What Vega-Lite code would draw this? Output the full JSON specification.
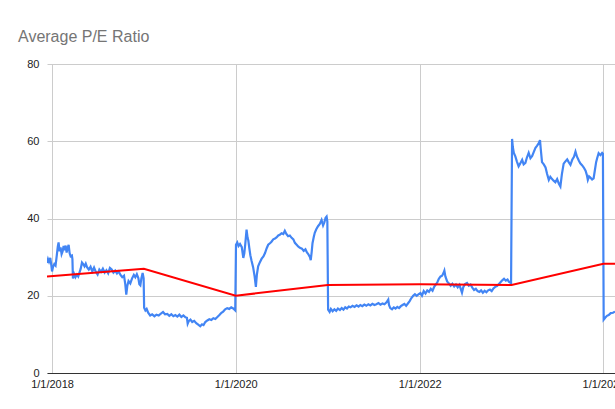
{
  "$schema": "https://vega.github.io/schema/vega-lite/v6.json",
  "width": 568,
  "height": 309,
  "autosize": {"type": "none"},
  "padding": {"left": 47, "top": 64, "right": 0, "bottom": 36},
  "background": "white",
  "config": {"view": {"stroke": null}, "font": "Liberation Sans"},
  "title": {"text": "Average P/E Ratio", "anchor": "start", "frame": "group", "dx": -29, "offset": 0, "baseline": "alphabetic", "fontSize": 16, "fontWeight": "normal", "color": "#757575", "font": "Liberation Sans"},
  "datasets": {
    "pe": [
      {"date":"2017-12-12","pe":28.5},{"date":"2017-12-16","pe":29.5},{"date":"2017-12-20","pe":28.8},{"date":"2017-12-25","pe":29.8},{"date":"2017-12-29","pe":28.0},
      {"date":"2018-01-01","pe":26.3},{"date":"2018-01-05","pe":27.5},{"date":"2018-01-10","pe":28.2},{"date":"2018-01-15","pe":27.8},{"date":"2018-01-20","pe":30.5},
      {"date":"2018-01-24","pe":32.8},{"date":"2018-01-27","pe":33.8},{"date":"2018-01-31","pe":31.5},{"date":"2018-02-04","pe":32.5},{"date":"2018-02-08","pe":30.8},
      {"date":"2018-02-12","pe":31.5},{"date":"2018-02-16","pe":32.9},{"date":"2018-02-20","pe":31.8},{"date":"2018-02-24","pe":33.0},{"date":"2018-02-28","pe":31.2},
      {"date":"2018-03-04","pe":32.4},{"date":"2018-03-08","pe":33.2},{"date":"2018-03-12","pe":31.0},{"date":"2018-03-16","pe":30.2},{"date":"2018-03-21","pe":30.4},
      {"date":"2018-03-23","pe":29.5},{"date":"2018-03-25","pe":24.5},{"date":"2018-03-30","pe":25.6},{"date":"2018-04-04","pe":24.8},{"date":"2018-04-10","pe":25.5},
      {"date":"2018-04-15","pe":25.0},{"date":"2018-04-20","pe":26.0},{"date":"2018-04-25","pe":27.0},{"date":"2018-04-30","pe":28.6},{"date":"2018-05-05","pe":28.2},
      {"date":"2018-05-10","pe":27.6},{"date":"2018-05-15","pe":28.3},{"date":"2018-05-20","pe":27.4},{"date":"2018-05-27","pe":26.8},{"date":"2018-06-03","pe":27.5},
      {"date":"2018-06-10","pe":26.3},{"date":"2018-06-17","pe":27.3},{"date":"2018-06-24","pe":26.2},{"date":"2018-07-01","pe":25.5},{"date":"2018-07-08","pe":26.8},
      {"date":"2018-07-15","pe":26.2},{"date":"2018-07-22","pe":27.0},{"date":"2018-07-29","pe":26.0},{"date":"2018-08-05","pe":26.6},{"date":"2018-08-12","pe":25.8},
      {"date":"2018-08-19","pe":27.2},{"date":"2018-08-26","pe":26.8},{"date":"2018-09-02","pe":26.0},{"date":"2018-09-09","pe":26.5},{"date":"2018-09-16","pe":25.8},
      {"date":"2018-09-23","pe":26.3},{"date":"2018-09-30","pe":25.4},{"date":"2018-10-07","pe":24.8},{"date":"2018-10-14","pe":25.2},{"date":"2018-10-19","pe":23.0},
      {"date":"2018-10-23","pe":20.3},{"date":"2018-10-27","pe":22.5},{"date":"2018-11-01","pe":23.8},{"date":"2018-11-08","pe":23.2},{"date":"2018-11-15","pe":24.5},
      {"date":"2018-11-22","pe":25.4},{"date":"2018-11-28","pe":24.8},{"date":"2018-12-04","pe":25.6},{"date":"2018-12-10","pe":24.6},{"date":"2018-12-14","pe":23.0},
      {"date":"2018-12-18","pe":22.7},{"date":"2018-12-22","pe":24.5},{"date":"2018-12-27","pe":25.9},{"date":"2018-12-31","pe":24.5},
      {"date":"2019-01-02","pe":16.9},{"date":"2019-01-07","pe":16.2},{"date":"2019-01-12","pe":16.6},{"date":"2019-01-18","pe":15.6},{"date":"2019-01-26","pe":14.9},
      {"date":"2019-02-03","pe":15.2},{"date":"2019-02-12","pe":14.7},{"date":"2019-02-20","pe":15.1},{"date":"2019-03-01","pe":14.9},{"date":"2019-03-10","pe":15.4},
      {"date":"2019-03-18","pe":15.8},{"date":"2019-03-26","pe":15.2},{"date":"2019-04-04","pe":15.3},{"date":"2019-04-12","pe":14.8},{"date":"2019-04-20","pe":15.2},
      {"date":"2019-04-28","pe":14.7},{"date":"2019-05-06","pe":15.0},{"date":"2019-05-14","pe":14.6},{"date":"2019-05-22","pe":15.1},{"date":"2019-05-30","pe":14.5},
      {"date":"2019-06-07","pe":14.9},{"date":"2019-06-15","pe":14.4},{"date":"2019-06-21","pe":14.3},{"date":"2019-06-24","pe":12.8},{"date":"2019-06-28","pe":13.4},
      {"date":"2019-07-05","pe":13.8},{"date":"2019-07-12","pe":13.2},{"date":"2019-07-20","pe":13.5},{"date":"2019-07-28","pe":12.9},{"date":"2019-08-05","pe":12.5},
      {"date":"2019-08-13","pe":12.1},{"date":"2019-08-20","pe":12.6},{"date":"2019-08-26","pe":12.4},{"date":"2019-09-02","pe":13.2},{"date":"2019-09-10","pe":13.6},
      {"date":"2019-09-18","pe":13.9},{"date":"2019-09-26","pe":13.7},{"date":"2019-10-04","pe":14.2},{"date":"2019-10-12","pe":14.0},{"date":"2019-10-20","pe":14.5},
      {"date":"2019-10-28","pe":15.0},{"date":"2019-11-05","pe":15.6},{"date":"2019-11-12","pe":15.9},{"date":"2019-11-20","pe":16.5},{"date":"2019-11-28","pe":16.8},
      {"date":"2019-12-06","pe":16.6},{"date":"2019-12-14","pe":17.0},{"date":"2019-12-22","pe":16.7},{"date":"2019-12-30","pe":16.2},
      {"date":"2020-01-02","pe":33.2},{"date":"2020-01-07","pe":33.8},{"date":"2020-01-12","pe":32.9},{"date":"2020-01-18","pe":33.4},{"date":"2020-01-25","pe":32.6},
      {"date":"2020-01-31","pe":29.8},{"date":"2020-02-04","pe":31.0},{"date":"2020-02-08","pe":33.5},{"date":"2020-02-13","pe":37.1},{"date":"2020-02-17","pe":35.0},
      {"date":"2020-02-20","pe":34.3},{"date":"2020-02-24","pe":32.3},{"date":"2020-02-28","pe":30.5},{"date":"2020-03-04","pe":29.0},{"date":"2020-03-10","pe":27.4},
      {"date":"2020-03-16","pe":25.0},{"date":"2020-03-21","pe":22.3},{"date":"2020-03-25","pe":25.5},{"date":"2020-03-30","pe":27.6},{"date":"2020-04-06","pe":28.7},
      {"date":"2020-04-13","pe":29.6},{"date":"2020-04-20","pe":30.2},{"date":"2020-04-26","pe":31.0},{"date":"2020-05-03","pe":32.3},{"date":"2020-05-09","pe":33.2},
      {"date":"2020-05-16","pe":33.6},{"date":"2020-05-22","pe":34.0},{"date":"2020-05-29","pe":34.6},{"date":"2020-06-05","pe":34.8},{"date":"2020-06-11","pe":35.1},
      {"date":"2020-06-18","pe":35.6},{"date":"2020-06-24","pe":35.8},{"date":"2020-07-01","pe":36.2},{"date":"2020-07-08","pe":36.0},{"date":"2020-07-14","pe":36.8},
      {"date":"2020-07-20","pe":36.0},{"date":"2020-07-27","pe":35.4},{"date":"2020-08-03","pe":35.6},{"date":"2020-08-10","pe":35.0},{"date":"2020-08-17","pe":34.6},
      {"date":"2020-08-23","pe":33.7},{"date":"2020-08-30","pe":33.2},{"date":"2020-09-06","pe":32.7},{"date":"2020-09-12","pe":32.4},{"date":"2020-09-20","pe":32.2},
      {"date":"2020-09-27","pe":31.6},{"date":"2020-10-04","pe":32.0},{"date":"2020-10-10","pe":31.2},{"date":"2020-10-15","pe":30.8},{"date":"2020-10-22","pe":30.0},
      {"date":"2020-10-25","pe":29.2},{"date":"2020-10-29","pe":31.5},{"date":"2020-11-01","pe":33.6},{"date":"2020-11-06","pe":35.2},{"date":"2020-11-10","pe":36.3},
      {"date":"2020-11-16","pe":37.2},{"date":"2020-11-23","pe":38.0},{"date":"2020-11-30","pe":38.6},{"date":"2020-12-07","pe":39.6},{"date":"2020-12-13","pe":38.2},
      {"date":"2020-12-18","pe":39.0},{"date":"2020-12-23","pe":40.2},{"date":"2020-12-27","pe":40.5},{"date":"2020-12-30","pe":39.2},
      {"date":"2021-01-02","pe":16.4},{"date":"2021-01-08","pe":15.8},{"date":"2021-01-13","pe":16.6},{"date":"2021-01-20","pe":16.0},{"date":"2021-01-27","pe":16.5},
      {"date":"2021-02-03","pe":16.1},{"date":"2021-02-10","pe":16.7},{"date":"2021-02-18","pe":16.3},{"date":"2021-02-25","pe":16.8},{"date":"2021-03-04","pe":16.4},
      {"date":"2021-03-11","pe":17.0},{"date":"2021-03-18","pe":16.7},{"date":"2021-03-25","pe":17.2},{"date":"2021-04-01","pe":17.0},{"date":"2021-04-09","pe":17.4},
      {"date":"2021-04-17","pe":17.1},{"date":"2021-04-25","pe":17.5},{"date":"2021-05-03","pe":17.2},{"date":"2021-05-10","pe":17.6},{"date":"2021-05-18","pe":17.3},
      {"date":"2021-05-26","pe":17.7},{"date":"2021-06-03","pe":17.4},{"date":"2021-06-11","pe":17.8},{"date":"2021-06-19","pe":17.5},{"date":"2021-06-27","pe":17.9},
      {"date":"2021-07-05","pe":17.6},{"date":"2021-07-13","pe":17.8},{"date":"2021-07-21","pe":18.1},{"date":"2021-07-29","pe":17.7},{"date":"2021-08-06","pe":18.0},
      {"date":"2021-08-14","pe":17.8},{"date":"2021-08-22","pe":18.3},{"date":"2021-08-29","pe":19.0},{"date":"2021-09-01","pe":17.6},{"date":"2021-09-06","pe":16.8},
      {"date":"2021-09-13","pe":16.5},{"date":"2021-09-20","pe":17.0},{"date":"2021-09-27","pe":16.7},{"date":"2021-10-04","pe":17.1},{"date":"2021-10-11","pe":16.8},
      {"date":"2021-10-18","pe":17.3},{"date":"2021-10-25","pe":17.6},{"date":"2021-11-01","pe":17.9},{"date":"2021-11-08","pe":17.4},{"date":"2021-11-15","pe":18.0},
      {"date":"2021-11-22","pe":18.6},{"date":"2021-11-29","pe":19.4},{"date":"2021-12-06","pe":20.0},{"date":"2021-12-13","pe":20.4},{"date":"2021-12-20","pe":20.0},
      {"date":"2021-12-28","pe":20.4},
      {"date":"2022-01-04","pe":20.7},{"date":"2022-01-10","pe":20.0},{"date":"2022-01-17","pe":21.2},{"date":"2022-01-24","pe":20.6},{"date":"2022-01-31","pe":21.4},
      {"date":"2022-02-07","pe":21.0},{"date":"2022-02-14","pe":21.8},{"date":"2022-02-21","pe":21.3},{"date":"2022-02-28","pe":22.4},{"date":"2022-03-06","pe":22.9},
      {"date":"2022-03-12","pe":23.5},{"date":"2022-03-18","pe":24.4},{"date":"2022-03-25","pe":25.0},{"date":"2022-03-31","pe":25.2},{"date":"2022-04-05","pe":25.8},
      {"date":"2022-04-09","pe":26.5},{"date":"2022-04-13","pe":25.0},{"date":"2022-04-20","pe":23.7},{"date":"2022-04-27","pe":23.2},{"date":"2022-05-04","pe":22.6},
      {"date":"2022-05-11","pe":23.1},{"date":"2022-05-18","pe":22.4},{"date":"2022-05-25","pe":22.9},{"date":"2022-06-01","pe":22.2},{"date":"2022-06-08","pe":22.8},
      {"date":"2022-06-14","pe":21.6},{"date":"2022-06-18","pe":20.8},{"date":"2022-06-23","pe":22.2},{"date":"2022-06-30","pe":23.0},{"date":"2022-07-08","pe":23.3},
      {"date":"2022-07-15","pe":22.6},{"date":"2022-07-22","pe":22.9},{"date":"2022-07-29","pe":22.1},{"date":"2022-08-05","pe":21.5},{"date":"2022-08-12","pe":21.8},
      {"date":"2022-08-19","pe":21.2},{"date":"2022-08-26","pe":21.0},{"date":"2022-09-02","pe":21.4},{"date":"2022-09-09","pe":20.8},{"date":"2022-09-16","pe":21.3},
      {"date":"2022-09-23","pe":20.9},{"date":"2022-09-30","pe":21.4},{"date":"2022-10-07","pe":21.6},{"date":"2022-10-14","pe":21.2},{"date":"2022-10-21","pe":21.9},
      {"date":"2022-10-28","pe":22.3},{"date":"2022-11-04","pe":22.5},{"date":"2022-11-11","pe":23.0},{"date":"2022-11-18","pe":23.5},{"date":"2022-11-25","pe":24.0},
      {"date":"2022-12-02","pe":24.4},{"date":"2022-12-09","pe":23.9},{"date":"2022-12-16","pe":24.2},{"date":"2022-12-22","pe":23.6},{"date":"2022-12-30","pe":23.3},
      {"date":"2023-01-03","pe":60.6},{"date":"2023-01-06","pe":58.5},{"date":"2023-01-10","pe":57.0},{"date":"2023-01-16","pe":56.1},{"date":"2023-01-22","pe":54.8},
      {"date":"2023-01-29","pe":53.5},{"date":"2023-02-04","pe":54.2},{"date":"2023-02-12","pe":55.2},{"date":"2023-02-18","pe":54.0},{"date":"2023-02-25","pe":54.4},
      {"date":"2023-03-03","pe":55.8},{"date":"2023-03-10","pe":57.0},{"date":"2023-03-17","pe":55.6},{"date":"2023-03-24","pe":56.2},{"date":"2023-03-30","pe":57.2},
      {"date":"2023-04-06","pe":58.3},{"date":"2023-04-12","pe":58.8},{"date":"2023-04-19","pe":59.5},{"date":"2023-04-24","pe":60.3},{"date":"2023-04-27","pe":58.0},
      {"date":"2023-05-02","pe":54.6},{"date":"2023-05-09","pe":54.0},{"date":"2023-05-16","pe":53.2},{"date":"2023-05-22","pe":51.6},{"date":"2023-05-29","pe":50.0},
      {"date":"2023-06-04","pe":50.8},{"date":"2023-06-11","pe":50.2},{"date":"2023-06-17","pe":49.8},{"date":"2023-06-24","pe":49.4},{"date":"2023-07-01","pe":50.2},
      {"date":"2023-07-08","pe":49.0},{"date":"2023-07-14","pe":48.3},{"date":"2023-07-20","pe":51.5},{"date":"2023-07-27","pe":54.2},{"date":"2023-08-03","pe":54.8},
      {"date":"2023-08-10","pe":55.3},{"date":"2023-08-16","pe":54.6},{"date":"2023-08-23","pe":53.9},{"date":"2023-08-30","pe":55.2},{"date":"2023-09-06","pe":56.0},
      {"date":"2023-09-12","pe":57.3},{"date":"2023-09-18","pe":56.0},{"date":"2023-09-25","pe":55.0},{"date":"2023-10-01","pe":54.3},{"date":"2023-10-08","pe":53.8},
      {"date":"2023-10-15","pe":53.2},{"date":"2023-10-22","pe":52.4},{"date":"2023-10-27","pe":51.3},{"date":"2023-10-31","pe":50.0},{"date":"2023-11-05","pe":50.9},
      {"date":"2023-11-10","pe":50.6},{"date":"2023-11-17","pe":50.1},{"date":"2023-11-23","pe":50.4},{"date":"2023-11-28","pe":52.5},{"date":"2023-12-03","pe":54.6},
      {"date":"2023-12-07","pe":55.6},{"date":"2023-12-13","pe":56.9},{"date":"2023-12-20","pe":56.4},{"date":"2023-12-27","pe":57.0},{"date":"2023-12-30","pe":56.8},
      {"date":"2024-01-02","pe":13.8},{"date":"2024-01-08","pe":14.3},{"date":"2024-01-15","pe":14.8},{"date":"2024-01-22","pe":15.0},{"date":"2024-01-30","pe":15.5},
      {"date":"2024-02-08","pe":15.6},{"date":"2024-02-16","pe":15.9}
    ],
    "avg": [
      {"date":"2017-12-12","pe":25.0},
      {"date":"2019-01-01","pe":27.0},
      {"date":"2020-01-01","pe":20.0},
      {"date":"2021-01-01","pe":22.8},
      {"date":"2022-01-01","pe":23.0},
      {"date":"2023-01-01","pe":22.8},
      {"date":"2024-01-01","pe":28.3},
      {"date":"2024-02-16","pe":28.3}
    ]
  },
  "encoding": {
    "x": {
      "field": "date", "type": "temporal",
      "scale": {"type": "utc", "domain": [{"year": 2017, "month": 12, "date": 12, "utc": true}, {"year": 2024, "month": 2, "date": 16, "utc": true}]},
      "axis": {
        "title": null,
        "values": [{"year": 2018, "month": 1, "date": 1, "utc": true}, {"year": 2020, "month": 1, "date": 1, "utc": true}, {"year": 2022, "month": 1, "date": 1, "utc": true}, {"year": 2024, "month": 1, "date": 1, "utc": true}],
        "labelExpr": "utcFormat(datum.value, '%-m/%-d/%Y')",
        "ticks": false, "domain": true, "domainColor": "#333333", "domainWidth": 1,
        "grid": true, "gridColor": "#cccccc", "gridWidth": 1,
        "labelFont": "Liberation Sans", "labelFontSize": 11, "labelColor": "#222222", "labelPadding": 5, "labelFlush": false, "labelOverlap": false
      }
    },
    "y": {
      "field": "pe", "type": "quantitative",
      "scale": {"domain": [0, 80], "nice": false, "zero": true},
      "axis": {
        "title": null, "values": [0, 20, 40, 60, 80],
        "ticks": false, "domain": false,
        "grid": true, "gridColor": "#cccccc", "gridWidth": 1,
        "labelFont": "Liberation Sans", "labelFontSize": 11, "labelColor": "#222222", "labelPadding": 8
      }
    }
  },
  "layer": [
    {"data": {"name": "pe"}, "mark": {"type": "line", "color": "#4285f4", "strokeWidth": 2.2, "clip": true, "interpolate": "linear"}},
    {"data": {"name": "avg"}, "mark": {"type": "line", "color": "#ff0000", "strokeWidth": 2, "clip": true}}
  ]
}
